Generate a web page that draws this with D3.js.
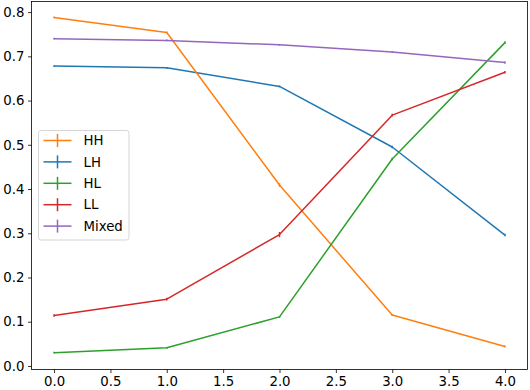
<!DOCTYPE html>
<html>
<head>
<meta charset="utf-8">
<script src="https://cdn.jsdelivr.net/npm/d3@7"></script>
<style>
  body { margin: 0; background: #fff; }
  text { font-family: "DejaVu Sans", sans-serif; }
</style>
</head>
<body>
<svg id="chart" width="530" height="390"></svg>
<script>
// data
var xs = [0, 1, 2, 3, 4];
var seriesNames = ["LH", "HH", "HL", "LL", "Mixed"];   // plotting order
var legendOrder = ["HH", "LH", "HL", "LL", "Mixed"];
var colors = {HH: "#ff7f0e", LH: "#1f77b4", HL: "#2ca02c", LL: "#d62728", Mixed: "#9467bd"};

var hhVals = [0.788, 0.754, 0.409, 0.115, 0.044];
var lhVals = [0.678, 0.674, 0.632, 0.495, 0.296];
var hlVals = [0.030, 0.041, 0.111, 0.468, 0.731];
var llVals = [0.114, 0.151, 0.297, 0.567, 0.664];
var mixedVals = [0.740, 0.736, 0.726, 0.710, 0.686];

var hhErr = [0.002, 0.002, 0.004, 0.002, 0.002];
var lhErr = [0.002, 0.002, 0.002, 0.003, 0.003];
var hlErr = [0.002, 0.002, 0.002, 0.003, 0.003];
var llErr = [0.003, 0.003, 0.006, 0.003, 0.003];
var mixedErr = [0.002, 0.002, 0.002, 0.002, 0.003];

var xTicks = [0, 0.5, 1, 1.5, 2, 2.5, 3, 3.5, 4];
var yTicks = [0, 0.1, 0.2, 0.3, 0.4, 0.5, 0.6, 0.7, 0.8];

var valuesByName = {HH: hhVals, LH: lhVals, HL: hlVals, LL: llVals, Mixed: mixedVals};
var errByName = {HH: hhErr, LH: lhErr, HL: hlErr, LL: llErr, Mixed: mixedErr};

var svg = d3.select("#chart");

var plotLeft = 31.5, plotRight = 527.5, plotTop = 1.5, plotBottom = 369.5;

var x = d3.scaleLinear().domain([-0.2, 4.2]).range([plotLeft, plotRight]);
var y = d3.scaleLinear().domain([-0.008, 0.824]).range([plotBottom, plotTop]);

// series lines + error bars
var line = d3.line()
    .x(function (d) { return x(d.x); })
    .y(function (d) { return y(d.y); });

var plot = svg.append("g");

seriesNames.forEach(function (name) {
    var pts = xs.map(function (xv, i) {
        return {x: xv, y: valuesByName[name][i], e: errByName[name][i]};
    });
    var g = plot.append("g");
    g.selectAll("line")
        .data(pts)
        .enter()
        .append("line")
        .attr("x1", function (d) { return x(d.x); })
        .attr("x2", function (d) { return x(d.x); })
        .attr("y1", function (d) { return y(d.y - d.e); })
        .attr("y2", function (d) { return y(d.y + d.e); })
        .attr("stroke", colors[name])
        .attr("stroke-width", 1.5);
    g.append("path")
        .datum(pts)
        .attr("d", line)
        .attr("fill", "none")
        .attr("stroke", colors[name])
        .attr("stroke-width", 1.5)
        .attr("stroke-linejoin", "round");
});

// axes
var xAxis = d3.axisBottom(x).tickValues(xTicks).tickSize(3.5).tickPadding(3.5)
    .tickFormat(d3.format(".1f"));
var yAxis = d3.axisLeft(y).tickValues(yTicks).tickSize(3.5).tickPadding(3.5)
    .tickFormat(d3.format(".1f"));

var gx = svg.append("g").attr("transform", "translate(0," + plotBottom + ")").call(xAxis);
var gy = svg.append("g").attr("transform", "translate(" + plotLeft + ",0)").call(yAxis);

[gx, gy].forEach(function (g) {
    g.select(".domain").remove();
    g.selectAll(".tick line").attr("stroke", "#000").attr("stroke-width", 0.8);
    g.selectAll(".tick text").attr("fill", "#000").style("font-size", "13.3px")
        .style("font-family", "DejaVu Sans, sans-serif");
});

// frame
svg.append("rect")
    .attr("x", plotLeft)
    .attr("y", plotTop)
    .attr("width", plotRight - plotLeft)
    .attr("height", plotBottom - plotTop)
    .attr("fill", "none")
    .attr("stroke", "#000")
    .attr("stroke-width", 0.8);

// legend
var legend = svg.append("g").attr("transform", "translate(38.5,130.5)");
legend.append("rect")
    .attr("width", 90.5)
    .attr("height", 109.5)
    .attr("rx", 2.5)
    .attr("fill", "#fff")
    .attr("fill-opacity", 0.8)
    .attr("stroke", "#cccccc")
    .attr("stroke-width", 0.8);

var items = legend.selectAll("g.item")
    .data(legendOrder)
    .enter()
    .append("g")
    .attr("class", "item")
    .attr("transform", function (d, i) { return "translate(0," + (10 + i * 21.4) + ")"; });

items.append("line")
    .attr("x1", 5).attr("x2", 33)
    .attr("y1", 0).attr("y2", 0)
    .attr("stroke", function (d) { return colors[d]; })
    .attr("stroke-width", 1.5);
items.append("line")
    .attr("x1", 19).attr("x2", 19)
    .attr("y1", -6.5).attr("y2", 6.5)
    .attr("stroke", function (d) { return colors[d]; })
    .attr("stroke-width", 1.5);
items.append("text")
    .attr("x", 45)
    .attr("y", 0)
    .attr("dy", "0.36em")
    .style("font-size", "13.3px")
    .attr("fill", "#000")
    .text(function (d) { return d; });
</script>
</body>
</html>
